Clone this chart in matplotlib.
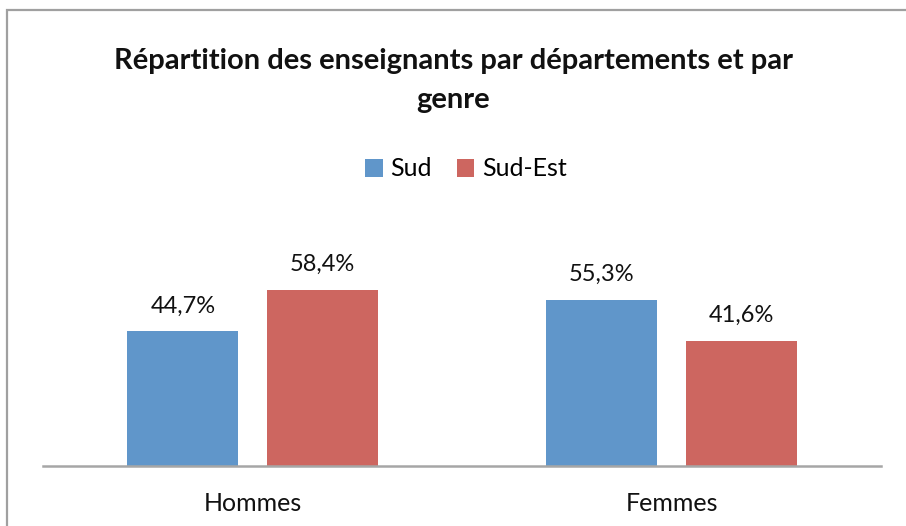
import matplotlib
matplotlib.use("Agg")
import matplotlib.pyplot as plt
import numpy as np
from matplotlib.patches import Rectangle

categories = ["Hommes", "Femmes"]
series_names = ["Sud", "Sud-Est"]
sud = [44.7, 55.3]
sud_est = [58.4, 41.6]
labels_sud = ["44,7%", "55,3%"]
labels_sud_est = ["58,4%", "41,6%"]

colors = ["#6096ca", "#cd6660"]
plt.rcParams['font.family'] = ['Lato', 'DejaVu Sans']

W, H = 906, 526
fig = plt.figure(figsize=(W/100, H/100), dpi=100)
fig.patch.set_facecolor("white")

# outer frame (only left and top edges visible)
fig.patches.append(Rectangle((7/W, -0.1), 1.2, 1 - 9.5/H + 0.1, transform=fig.transFigure,
                             fill=False, edgecolor="#a0a0a0", linewidth=1.6))

left, right, bottom = 43/W, 881/W, 1 - 465.5/H
top = 1 - 195.5/H
ax = fig.add_axes([left, bottom, right-left, top-bottom])
ax.set_xlim(-0.5, 1.5)
ax.set_ylim(0, 90)

x = np.arange(len(categories))
bw = 0.265
off = (bw + 0.067) / 2
b1 = ax.bar(x - off, sud, bw, color=colors[0], label=series_names[0])
b2 = ax.bar(x + off, sud_est, bw, color=colors[1], label=series_names[1])
for bars, labs in ((b1, labels_sud), (b2, labels_sud_est)):
    for rect, lab in zip(bars, labs):
        ax.annotate(lab, (rect.get_x() + rect.get_width()/2, rect.get_height()),
                    xytext=(0, 19), textcoords="offset pixels", ha="center", va="baseline",
                    fontsize=17, color="#111111")

for s in ["top", "right", "left"]:
    ax.spines[s].set_visible(False)
ax.spines["bottom"].set_color("#a6a6a6")
ax.spines["bottom"].set_linewidth(1.8)
ax.set_yticks([])
ax.set_xticks(x)
ax.set_xticklabels(categories, fontsize=18, va="baseline", color="#111111")
ax.tick_params(axis="x", length=0, pad=32.5)

fig.text(0.5, 1 - 69/H, "Répartition des enseignants par départements et par", ha="center",
         va="baseline", fontsize=21, fontweight="bold", color="#111111")
fig.text(0.5, 1 - 108/H, "genre", ha="center", va="baseline", fontsize=21, fontweight="bold",
         color="#111111")

fig.legend(handles=[b1, b2], loc="center", bbox_to_anchor=(466/W, 1 - 169/H), ncol=2, frameon=False,
           fontsize=18, handlelength=0.7, handleheight=0.7, handletextpad=0.3, columnspacing=1.0)

fig.savefig("out.png", dpi=100, facecolor="white")
